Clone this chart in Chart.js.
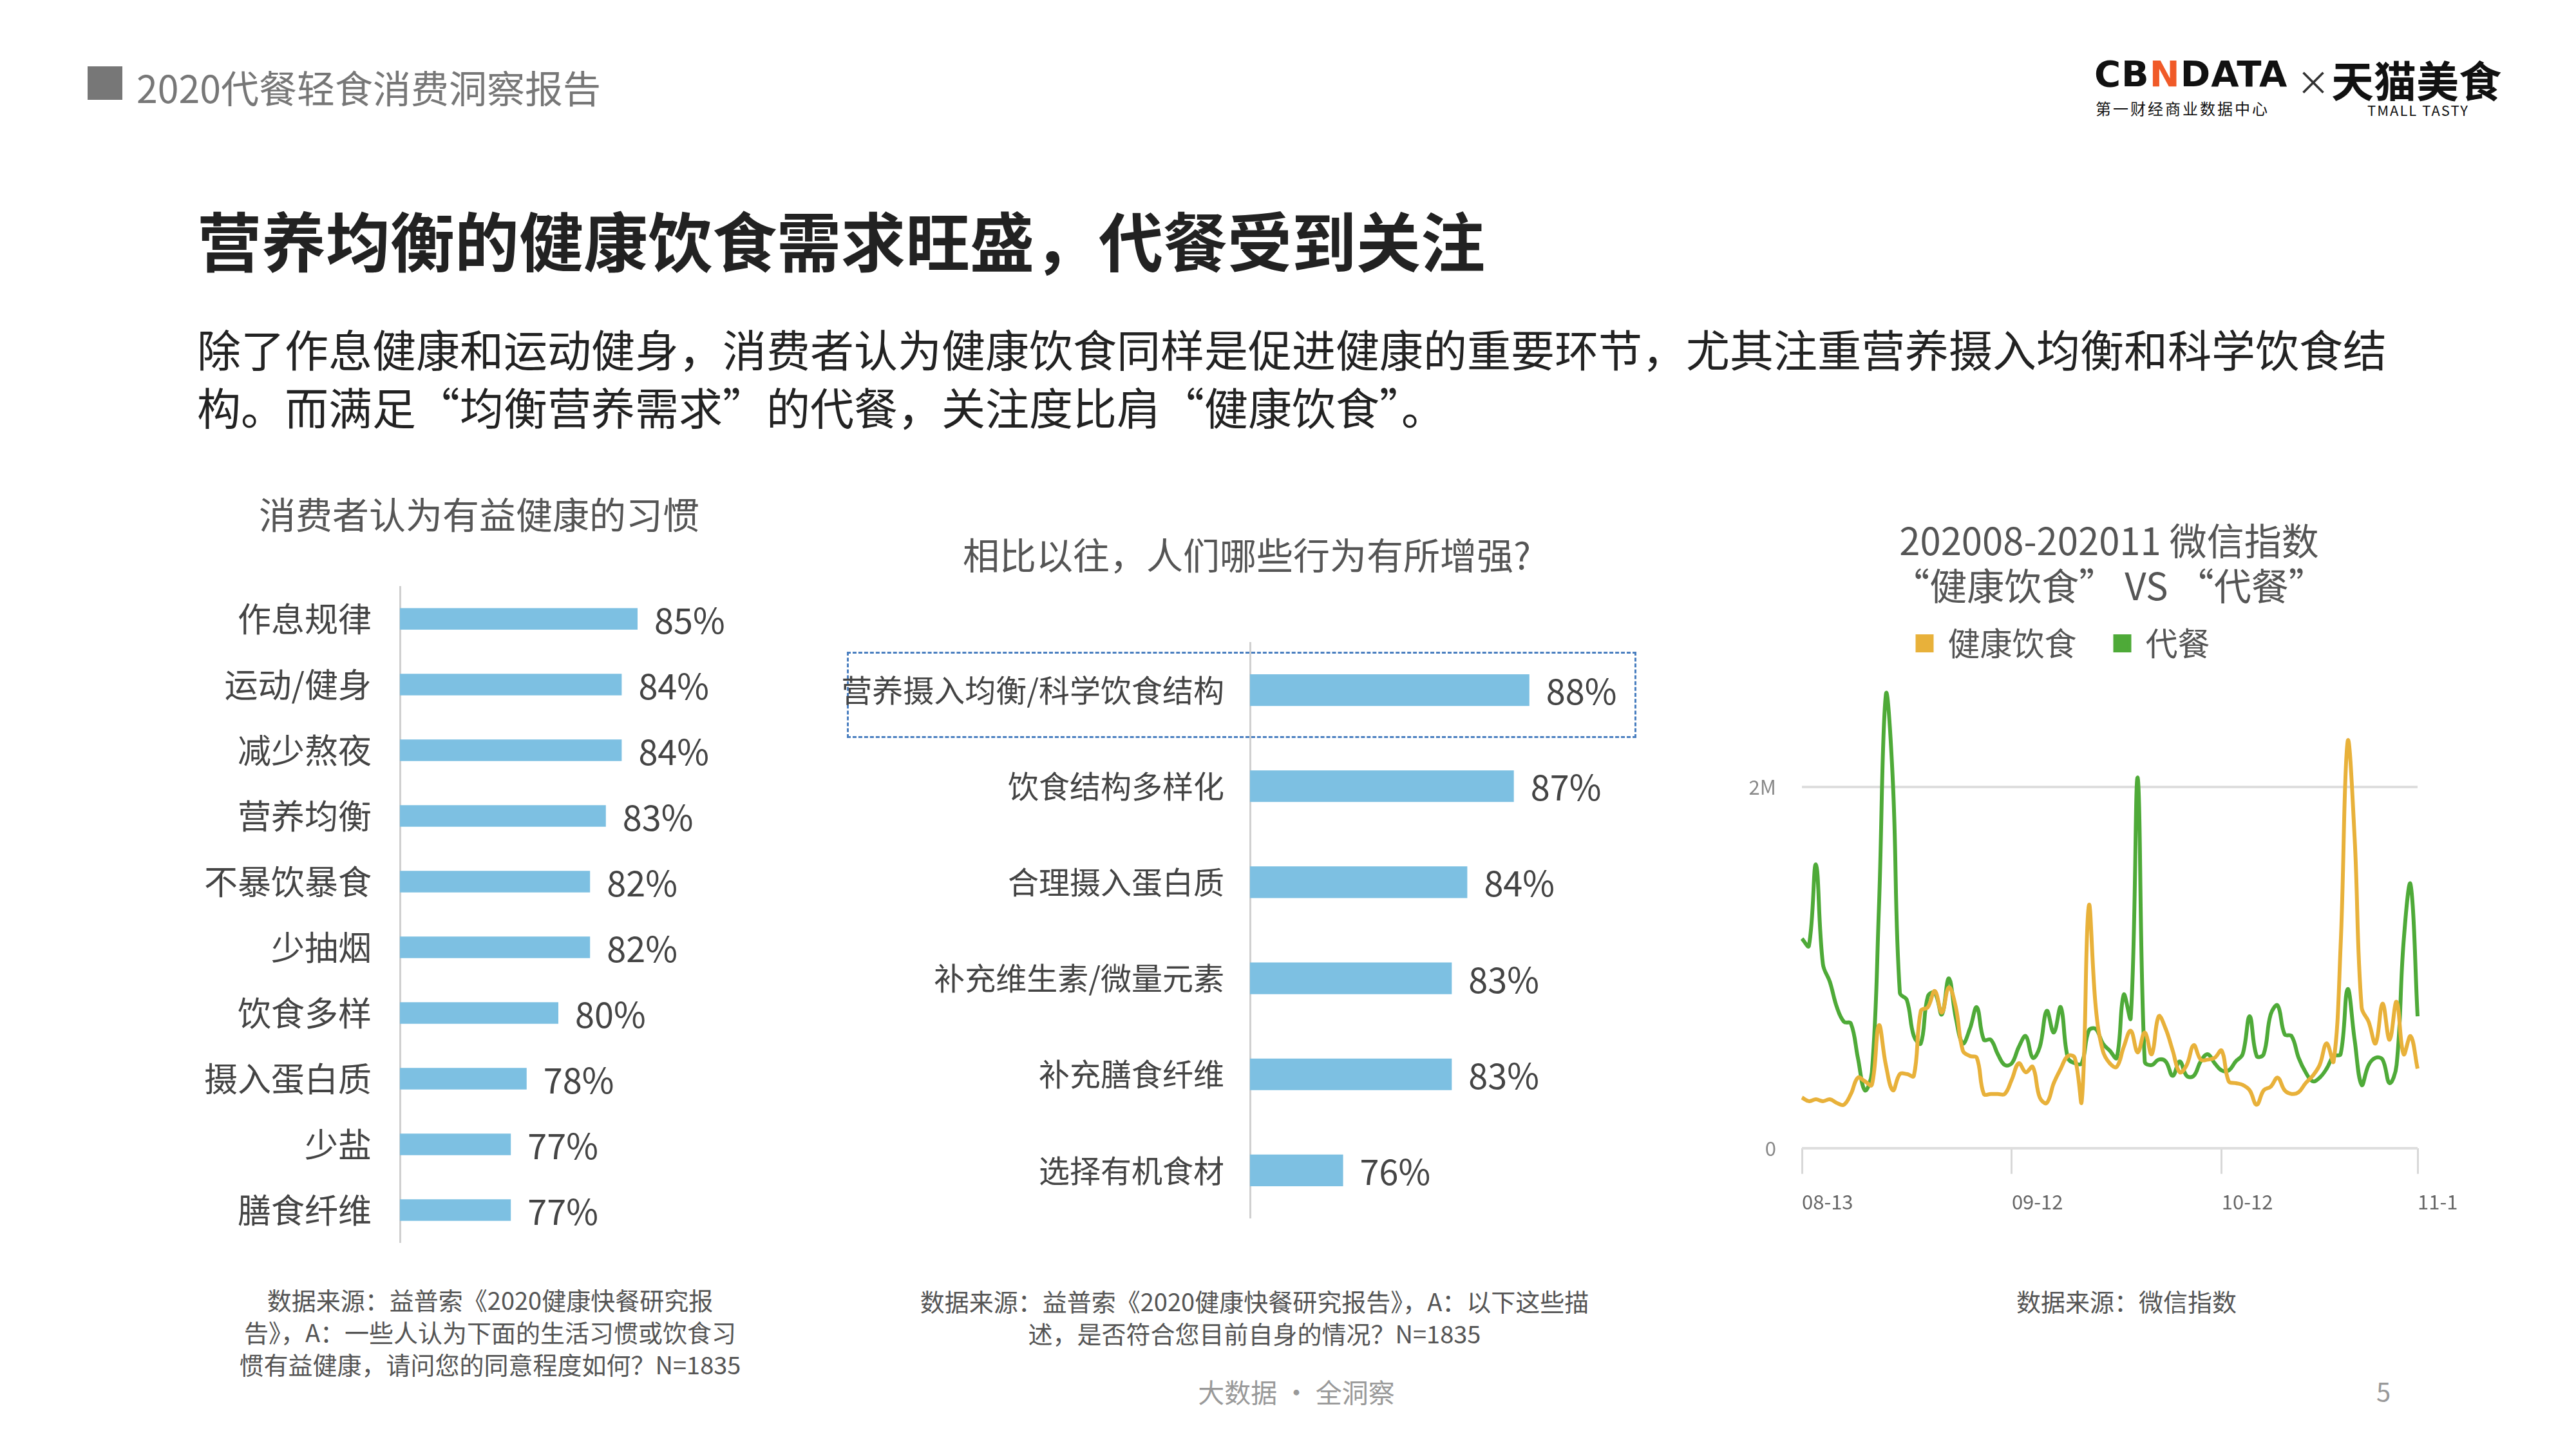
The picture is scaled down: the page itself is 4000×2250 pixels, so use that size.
<!DOCTYPE html>
<html>
<head>
<meta charset="utf-8">
<script src="https://cdn.jsdelivr.net/npm/chart.js@4/dist/chart.umd.min.js"></script>
<style>
  body { margin:0; width:4000px; height:2250px; background:#fff; position:relative; overflow:hidden;
         font-family:"Noto Sans CJK SC","Noto Sans",sans-serif; }
  .t { position:absolute; white-space:nowrap; }
  .box { position:absolute; }
  .note { position:absolute; color:#555; font-size:38px; line-height:50px; text-align:center; transform:translateX(-50%); white-space:nowrap; }
</style>
</head>
<body>
<div style="position:absolute;left:136px;top:103px;width:54px;height:52px;background:#777"></div>
<div class="t" style="left:212px;top:92px;font-size:59px;color:#777">2020代餐轻食消费洞察报告</div>

<div class="t" style="left:3252px;top:82px;font-size:56px;font-weight:bold;color:#111;letter-spacing:1px;font-family:'DejaVu Sans'">CB<span style="color:#f05a28">N</span>DATA</div>
<div class="t" style="left:3254px;top:150px;font-size:24px;color:#111;letter-spacing:3px">第一财经商业数据中心</div>
<div class="t" style="left:3566px;top:88px;font-size:52px;color:#333">×</div>
<div class="t" style="left:3620px;top:74px;font-size:66px;font-weight:bold;color:#111">天猫美食</div>
<div class="t" style="left:3676px;top:154px;font-size:22px;color:#111;letter-spacing:2px">TMALL TASTY</div>

<div class="t" style="left:306px;top:298px;font-size:100px;font-weight:bold;color:#222">营养均衡的健康饮食需求旺盛，代餐受到关注</div>
<div class="t" style="left:306px;top:496px;font-size:68px;color:#222;line-height:90px">除了作息健康和运动健身，消费者认为健康饮食同样是促进健康的重要环节，尤其注重营养摄入均衡和科学饮食结<br>构。而满足“均衡营养需求”的代餐，关注度比肩“健康饮食”。</div>

<div class="t" style="left:744px;top:755px;font-size:57px;color:#555;transform:translateX(-50%)">消费者认为有益健康的习惯</div>
<div class="t" style="left:1936px;top:818px;font-size:57px;color:#555;transform:translateX(-50%)">相比以往，人们哪些行为有所增强?</div>
<div class="t" style="left:3275px;top:802px;font-size:58px;color:#555;transform:translateX(-50%);text-align:center;line-height:70px">202008-202011 微信指数<br>“健康饮食” VS “代餐”</div>

<div style="position:absolute;left:1315px;top:1012px;width:1220px;height:128px;border:3px dashed #4a7fc0"></div>

<div class="box" style="left:245px;top:910px;width:1114px;height:1020px"><canvas id="c1"></canvas></div>
<div class="box" style="left:1295px;top:997px;width:1369px;height:895px"><canvas id="c2"></canvas></div>
<div class="box" style="left:2655px;top:914px;width:1180px;height:996px"><canvas id="c3"></canvas></div>

<div class="note" style="left:761px;top:1993px">数据来源：益普索《2020健康快餐研究报<br>告》，A：一些人认为下面的生活习惯或饮食习<br>惯有益健康，请问您的同意程度如何？N=1835</div>
<div class="note" style="left:1948px;top:1995px">数据来源：益普索《2020健康快餐研究报告》，A：以下这些描<br>述，是否符合您目前自身的情况？N=1835</div>
<div class="note" style="left:3302px;top:1995px">数据来源：微信指数</div>
<div class="note" style="left:2013px;top:2135px;color:#999;font-size:41px">大数据 · 全洞察</div>
<div class="t" style="left:3690px;top:2130px;font-size:40px;color:#999">5</div>

<script>
var habits = ["作息规律","运动/健身","减少熬夜","营养均衡","不暴饮暴食","少抽烟","饮食多样","摄入蛋白质","少盐","膳食纤维"];
var habitPct = [85,84,84,83,82,82,80,78,77,77];

var behaviors = ["营养摄入均衡/科学饮食结构","饮食结构多样化","合理摄入蛋白质","补充维生素/微量元素","补充膳食纤维","选择有机食材"];
var behaviorPct = [88,87,84,83,83,76];

// 微信指数, 单位: 百万, 08-13 起逐日
var days = [];
(function(){
  var d = new Date(2020,7,13);
  for (var i = 0; i < 89; i++) {
    var m = d.getMonth()+1, dd = d.getDate();
    days.push((m<10?"0":"")+m+"-"+(dd<10?"0":"")+dd);
    d.setDate(d.getDate()+1);
  }
})();
var healthyDiet = [0.28,0.26,0.27,0.26,0.27,0.25,0.24,0.30,0.39,0.37,0.35,0.68,0.46,0.32,0.41,0.41,0.40,0.76,0.78,0.87,
  0.75,0.89,0.78,0.54,0.51,0.50,0.30,0.30,0.30,0.30,0.38,0.47,0.42,0.45,0.28,0.25,0.36,0.44,0.51,0.50,
  0.26,1.34,0.78,0.54,0.47,0.45,0.56,0.65,0.53,0.64,0.52,0.73,0.66,0.54,0.42,0.46,0.57,0.49,0.49,0.50,
  0.54,0.37,0.36,0.35,0.32,0.24,0.32,0.34,0.39,0.32,0.30,0.31,0.36,0.40,0.46,0.58,0.48,1.12,2.25,1.72,
  0.78,0.70,0.58,0.80,0.60,0.81,0.52,0.62,0.44];
var mealReplace = [1.16,1.12,1.57,1.02,0.92,0.78,0.70,0.69,0.50,0.32,0.42,1.32,2.51,2.03,0.86,0.82,0.62,0.58,0.84,0.86,
  0.74,0.94,0.72,0.58,0.66,0.78,0.60,0.60,0.52,0.46,0.47,0.56,0.62,0.50,0.56,0.76,0.64,0.78,0.50,0.47,
  0.47,0.65,0.66,0.58,0.54,0.50,0.85,0.72,2.05,0.48,0.46,0.49,0.48,0.40,0.48,0.40,0.40,0.48,0.52,0.47,
  0.43,0.43,0.48,0.52,0.73,0.51,0.52,0.74,0.79,0.63,0.62,0.50,0.42,0.37,0.39,0.44,0.51,0.52,0.88,0.60,
  0.35,0.46,0.50,0.49,0.36,0.46,1.14,1.46,0.73];
var shownTicks = {0:"08-13",30:"09-12",60:"10-12",88:"11-1"};

var FONT = "'Noto Sans CJK SC','Noto Sans',sans-serif";
Chart.defaults.font.family = FONT;

var pctLabels = {
  id: "pctLabels",
  afterDatasetsDraw: function(chart, args, opts) {
    var ctx = chart.ctx;
    ctx.save();
    ctx.font = opts.size + "px " + FONT;
    ctx.fillStyle = "#444";
    ctx.textBaseline = "middle";
    chart.getDatasetMeta(0).data.forEach(function(bar, i) {
      ctx.fillText(chart.data.datasets[0].data[i] + "%", bar.x + opts.gap, bar.y + 2);
    });
    ctx.restore();
  }
};

function barChart(id, labels, values, axisW, pad, fontSize, thick, valSize) {
  return new Chart(id, {
    type: "bar",
    data: { labels: labels, datasets: [{ data: values, backgroundColor: "#7dc0e2",
      categoryPercentage: 1, barPercentage: thick }] },
    plugins: [pctLabels],
    options: {
      indexAxis: "y", responsive: true, maintainAspectRatio: false, animation: false, devicePixelRatio: 1,
      layout: { padding: 0 },
      plugins: { legend: { display: false }, tooltip: { enabled: false },
        pctLabels: { size: valSize, gap: 26 } },
      scales: {
        x: { display: false, min: 70, max: 100 },
        y: {
          afterFit: function(s) { s.width = axisW; s.paddingTop = 0; s.paddingBottom = 0; },
          grid: { display: false, drawTicks: false },
          border: { display: true, color: "#d0d0d0", width: 3 },
          ticks: { color: "#444", padding: pad, font: { size: fontSize } }
        }
      }
    }
  });
}

barChart("c1", habits, habitPct, 376, 44, 52, 0.33, 54);
barChart("c2", behaviors, behaviorPct, 646, 40, 48, 0.33, 54);

new Chart("c3", {
  type: "line",
  data: {
    labels: days,
    datasets: [
      { label: "健康饮食", data: healthyDiet, borderColor: "#e8b13a", backgroundColor: "#e8b13a",
        borderWidth: 6, pointRadius: 0, tension: 0.4 },
      { label: "代餐", data: mealReplace, borderColor: "#4eaa38", backgroundColor: "#4eaa38",
        borderWidth: 6, pointRadius: 0, tension: 0.4 }
    ]
  },
  options: {
    responsive: true, maintainAspectRatio: false, animation: false, devicePixelRatio: 1,
    layout: { padding: { right: 81 } },
    plugins: {
      tooltip: { enabled: false },
      legend: { position: "top", labels: { color: "#555", font: { size: 50 }, boxWidth: 22, boxHeight: 22,
        padding: 60 } }
    },
    scales: {
      x: {
        afterFit: function(s) { s.paddingLeft = 0; s.paddingRight = 0; },
        grid: { drawOnChartArea: false, tickLength: 40, lineWidth: 3,
          color: function(c) { return (c.index in shownTicks) ? "#d8d8d8" : "rgba(0,0,0,0)"; } },
        border: { display: false },
        ticks: { autoSkip: false, maxRotation: 0, align: "start", color: "#666", font: { size: 31 }, padding: 25,
          callback: function(v, i) { return shownTicks[i] || ""; } }
      },
      y: {
        min: 0, max: 2.67,
        afterFit: function(s) { s.width = 143; },
        grid: { color: function(c) { return (c.tick.value === 0 || c.tick.value === 2) ? "#dedede" : "rgba(0,0,0,0)"; },
          lineWidth: 4, drawTicks: false },
        border: { display: false },
        ticks: { stepSize: 2, color: "#888", font: { size: 31 }, padding: 40,
          callback: function(v) { return v === 0 ? "0" : (v === 2 ? "2M" : ""); } }
      }
    }
  }
});
</script>
</body>
</html>
